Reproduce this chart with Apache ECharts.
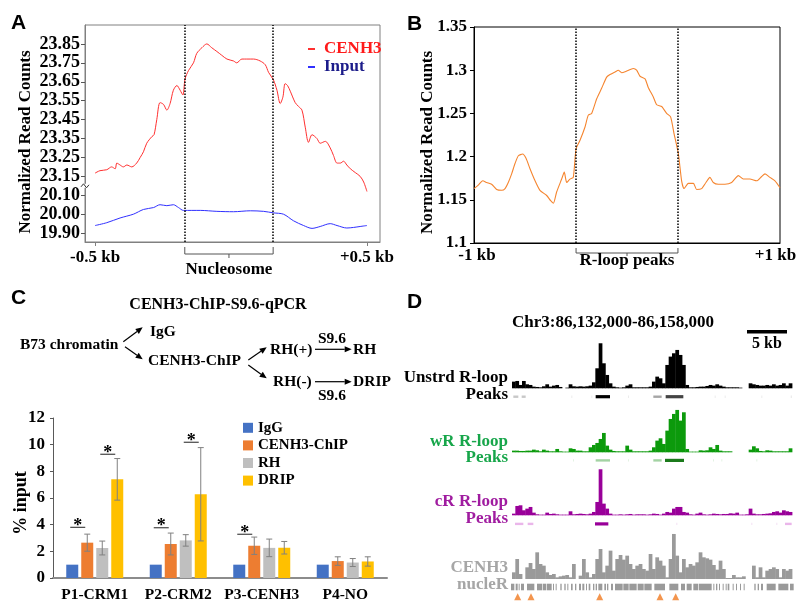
<!DOCTYPE html>
<html>
<head>
<meta charset="utf-8">
<script src="https://cdn.jsdelivr.net/npm/echarts@6/dist/echarts.min.js"></script>
</head>
<body style="margin:0">
<div id="container" style="width:798px;height:603px"></div>
<script>
var SERIF = '"Liberation Serif", "Times New Roman", serif';
var SANS = '"Liberation Sans", Arial, sans-serif';

// ---------- panel A: CENH3 / Input profile around nucleosomes (bp from centre)
var posA = [-500,-482,-457,-439,-426,-420,-408,-396,-383,-365,-347,-334,-322,-310,-291,-283,-273,-261,-248,-236,
  -224,-212,-199,-187,-177,-169,-156,-138,-126,-107,-89,-71,-52,-34,-15,9,21,40,58,83,
  107,126,138,156,169,181,191,199,208,218,236,248,261,273,285,298,316,328,347,365,
  377,390,402,414,426,439,457,475,488,500];
var cenh3A = [23.167,23.18,23.185,23.20,23.19,23.22,23.21,23.20,23.21,23.20,23.22,23.25,23.28,23.325,23.36,23.37,23.45,23.54,23.53,23.50,
  23.535,23.605,23.63,23.605,23.58,23.665,23.71,23.75,23.80,23.83,23.85,23.83,23.81,23.79,23.77,23.76,23.75,23.77,23.77,23.77,
  23.76,23.74,23.70,23.66,23.605,23.535,23.57,23.64,23.63,23.60,23.54,23.52,23.50,23.41,23.33,23.37,23.35,23.325,23.335,23.30,
  23.26,23.22,23.22,23.23,23.21,23.19,23.17,23.15,23.12,23.07];
var posInputA = [-500,-457,-408,-359,-322,-285,-261,-236,-212,-193,-175,-113,-52,9,71,120,156,193,230,267,298,328,365,390,426,451,475,500];
var inputA = [19.94,19.955,19.98,20.00,20.025,20.035,20.05,20.045,20.05,20.035,20.02,20.02,20.015,20.013,20.018,20.015,20.007,20.00,
  19.965,19.94,19.925,19.935,19.95,19.94,19.927,19.93,19.935,19.94];
var yTicksA = [19.90, 20.00, 20.10, 23.15, 23.25, 23.35, 23.45, 23.55, 23.65, 23.75, 23.85];
var xTicksA = [-500, 500];
var xTickLabelsA = ['-0.5 kb', '+0.5 kb'];
var nucleosomeA = [-170, 155];

// broken y axis: the upper part (23.15 and up) sits straight above 20.10
var BREAK_SHIFT = 2.95;
function toAxisA(v) { return v > 21 ? v - BREAK_SHIFT : v; }
function fromAxisA(v) { return v > 20.15 ? v + BREAK_SHIFT : v; }

// ---------- panel B: R-loop profile
var posB = [-1000,-972,-943,-917,-885,-852,-819,-797,-776,-754,-732,-710,-682,-660,-634,-601,-569,-525,-499,-481,
  -460,-427,-410,-394,-373,-351,-333,-307,-275,-253,-231,-198,-166,-133,-111,-78,-57,-35,-2,41,
  63,85,118,139,172,194,227,259,285,307,336,357,373,401,434,455,488,516,542,564,
  597,640,684,728,760,803,847,880,902,934,967,1000];
var rloopB = [1.163,1.167,1.172,1.170,1.168,1.162,1.161,1.163,1.170,1.180,1.192,1.201,1.203,1.198,1.186,1.172,1.161,1.155,1.149,1.146,
  1.159,1.174,1.182,1.170,1.174,1.176,1.209,1.219,1.234,1.248,1.250,1.267,1.279,1.292,1.295,1.298,1.300,1.297,1.299,1.302,
  1.300,1.293,1.290,1.280,1.269,1.260,1.258,1.250,1.246,1.227,1.203,1.172,1.163,1.169,1.169,1.162,1.163,1.170,1.176,1.170,
  1.168,1.168,1.170,1.178,1.174,1.174,1.172,1.177,1.180,1.176,1.172,1.164];
var xTicksB = [-1000, 1000];
var xTickLabelsB = ['{l|-1 kb}', '{r|+1 kb}'];
var peaksB = [-333, 333];

// ---------- panel C: qPCR
var groupsC = ['P1-CRM1', 'P2-CRM2', 'P3-CENH3', 'P4-NO'];
var namesC = ['IgG', 'CENH3-ChIP', 'RH', 'DRIP'];
var colorsC = ['#4472c4', '#ed7d31', '#bfbfbf', '#ffc000'];
var iggC = [1, 1, 1, 1];
var chipC = [2.65, 2.55, 2.42, 1.27];
var rhC = [2.25, 2.82, 2.26, 1.16];
var dripC = [7.4, 6.28, 2.27, 1.24];
var iggErrC = [0, 0, 0, 0];
var chipErrC = [0.64, 0.82, 0.65, 0.32];
var rhErrC = [0.52, 0.43, 0.66, 0.30];
var dripErrC = [1.56, 3.5, 0.47, 0.35];
// [group, bar a, bar b, height of the bar line]
var sigC = [[0, 0, 1, 3.80], [0, 2, 3, 9.28], [1, 0, 1, 3.77], [1, 2, 3, 10.18], [2, 0, 1, 3.28]];

// ---------- panel D: browser tracks, 84 bins over Chr3:86,132,000-86,158,000
var unstrdD = [20,22,10,22,12,10,5,4,3,6, 12,5,8,10,4,0,2,12,6,5, 6,5,6,8,18,60,135,75,40,15, 5,3,2,3,8,12,3,3,3,3,
  3,5,20,35,30,15,70,95,105,115, 100,70,10,3,3,4,5,5,7,10, 8,12,8,5,3,3,3,3,2,0, 0,15,12,10,8,8,10,8,12,8, 10,15,8,15];
var wrD = [5,5,4,4,5,5,8,6,3,8, 5,3,3,10,3,2,2,12,10,5, 5,3,3,15,22,28,40,58,20,8, 4,3,3,3,20,8,3,3,3,3,
  3,5,15,35,42,25,65,100,115,127, 95,120,10,2,2,2,6,5,6,15, 10,22,5,3,3,3,0,0,0,0, 0,8,18,12,4,3,6,5,3,3, 3,3,3,12];
var crD = [5,28,30,15,20,25,8,3,2,2, 8,4,5,3,2,2,2,12,3,4, 5,4,3,5,10,40,138,35,20,5, 2,2,3,2,3,4,2,3,3,3,
  2,3,5,4,2,5,10,8,20,25, 25,10,8,3,2,5,8,3,2,3, 5,4,3,4,4,6,5,8,2,2, 3,20,5,3,3,4,5,6,10,12, 8,15,12,10];
var cenh3D = [20,60,15,0,35,48,30,80,45,40, 20,12,15,5,8,10,12,5,45,0, 10,60,20,5,15,60,90,20,40,85, 25,60,72,58,70,45,30,40,45,30,
  25,75,30,65,55,40,5,60,135,70, 20,60,35,45,40,50,80,65,62,58, 42,28,55,30,3,3,12,5,5,8, 0,0,40,5,35,5,25,30,35,30, 5,30,25,30];
// peak calls: [start bin, end bin, level 0 faint .. 4 strong]
var unstrdPeaks = [[0.4,1.9,1],[2.9,4.1,1],[17.8,18.1,0],[23.8,24.1,0],[25.1,29.4,4],[34.8,35.1,0],[42.4,44.9,2],[46.1,51.4,3],
  [60.8,61.1,0],[63.8,64.1,0],[74.8,75.1,0],[83.6,84,0]];
var wrPeaks = [[18.3,18.6,0],[25.1,29.4,1],[34.8,35.1,0],[42.4,44.9,1],[45.9,51.6,4],[60.3,60.6,0],[62.8,63.1,0],[73.3,73.6,0]];
var crPeaks = [[0.9,3.4,1],[4.7,6.4,1],[24.9,28.9,4],[49.3,49.6,0],[71.8,72.1,0],[79.3,79.6,0],[81.9,83.9,1]];
var nucleR = [[-0.3,0.7],[1.1,1.7],[2.0,2.3],[2.7,3.6],[4.5,6.7],[7.5,9.0],[9.2,10.3],[10.5,11.9],[12.3,12.6],[13.1,13.4],
  [14.5,14.9],[15.7,16.1],[16.6,16.9],[17.7,18.2],[18.9,19.3],[20.1,20.7],[21.1,21.7],[22.2,22.5],[23.0,23.5],[24.3,24.7],
  [25.1,25.5],[25.9,27.1],[27.7,28.2],[28.5,28.9],[29.7,30.3],[30.9,33.2],[33.4,35.0],[35.2,37.4],[37.7,39.5],[39.7,41.9],
  [42.7,45.9],[47.2,49.9],[50.7,51.9],[52.4,53.9],[54.4,55.9],[56.1,59.9],[60.4,60.7],[61.2,61.6],[62.1,62.4],[63.2,63.5],
  [64.1,64.4],[64.7,65.2],[66.2,66.5],[67.2,67.5],[68.4,68.7],[69.5,69.8],[72.7,73.1],[73.7,74.1],[74.7,75.3],[76.4,79.1],
  [79.9,82.9],[83.4,84.5]];
var trianglesD = [1.7, 5.7, 26.3, 44.4, 49.1];

// ---------- helpers
function zip(xs, ys, f) {
  return xs.map(function (x, i) { return [x, f ? f(ys[i]) : ys[i]]; });
}
function txt(text, x, y, size, opt) {
  opt = opt || {};
  return {
    type: 'text', x: x, y: y, rotation: opt.rotation || 0, silent: true,
    style: {
      text: text, fill: opt.color || '#000',
      font: 'bold ' + size + 'px ' + (opt.family || SERIF),
      align: opt.align || 'left', textAlign: opt.align || 'left',
      verticalAlign: 'middle', textVerticalAlign: 'middle'
    }
  };
}
function arrow(x1, y1, x2, y2) {
  var a = Math.atan2(y2 - y1, x2 - x1), L = 7, W = 3;
  var bx = x2 - L * Math.cos(a), by = y2 - L * Math.sin(a);
  return [
    { type: 'line', silent: true, shape: { x1: x1, y1: y1, x2: bx, y2: by }, style: { stroke: '#000', lineWidth: 1.2 } },
    { type: 'polygon', silent: true, shape: { points: [[x2, y2], [bx - W * Math.sin(a), by + W * Math.cos(a)], [bx + W * Math.sin(a), by - W * Math.cos(a)]] }, style: { fill: '#000' } }
  ];
}
function seg(x1, y1, x2, y2, color, w) {
  return { type: 'line', shape: { x1: x1, y1: y1, x2: x2, y2: y2 }, style: { stroke: color, lineWidth: w || 1 } };
}

// bracket under a profile plot
function bracketSeries(grid, range, label, g) {
  return {
    type: 'custom', xAxisIndex: grid, yAxisIndex: grid, silent: true, clip: false, z: 5,
    data: [range],
    renderItem: function (params, api) {
      var cs = params.coordSys, base = cs.y + cs.height;
      var x1 = api.coord([api.value(0), 0])[0], x2 = api.coord([api.value(1), 0])[0], xm = (x1 + x2) / 2;
      return {
        type: 'group', children: [
          { type: 'polyline', shape: { points: [[x1, base + g[0]], [x1, base + g[1]], [x2, base + g[1]], [x2, base + g[0]]] },
            style: { stroke: '#555', fill: null, lineWidth: 1 } },
          seg(xm, base + g[1], xm, base + g[2], '#555', 1),
          { type: 'text', style: { text: label, x: xm, y: base + g[3], fill: '#000', font: 'bold 17px ' + SERIF,
            align: 'center', textAlign: 'center', verticalAlign: 'middle', textVerticalAlign: 'middle' } }
        ]
      };
    }
  };
}

var BAR_W = 12, BAR_GAP = 3;
var barOffsets = namesC.map(function (n, i) { return (i - (namesC.length - 1) / 2) * (BAR_W + BAR_GAP); });
var valsC = [iggC, chipC, rhC, dripC];
var errsC = [iggErrC, chipErrC, rhErrC, dripErrC];
var errData = [];
valsC.forEach(function (vals, s) {
  vals.forEach(function (v, g) { errData.push([g, s, v, errsC[s][g]]); });
});

function trackSeries(grid, vals, color) {
  return {
    type: 'custom', xAxisIndex: grid, yAxisIndex: grid, silent: true, clip: false,
    data: vals.map(function (v, i) { return [i, v]; }), encode: { x: 0, y: 1 },
    renderItem: function (params, api) {
      var i = api.value(0), v = api.value(1);
      var p0 = api.coord([i, 0]), p1 = api.coord([i + 1, v]);
      return { type: 'rect', shape: { x: p0[0], y: p1[1], width: p1[0] - p0[0] + 0.4, height: p0[1] - p1[1] }, style: { fill: color } };
    }
  };
}
function peakSeries(grid, peaks, colors, offset) {
  return {
    type: 'custom', xAxisIndex: grid, yAxisIndex: grid, silent: true, clip: false,
    data: peaks, encode: { x: [0, 1] },
    renderItem: function (params, api) {
      var lvl = api.value(2);
      var a = api.coord([api.value(0), 0]), b = api.coord([api.value(1), 0]);
      var h = lvl >= 3 ? 3.2 : 2.4;
      return { type: 'rect', shape: { x: a[0], y: a[1] + offset + (3.2 - h) / 2, width: Math.max(b[0] - a[0], 1), height: h },
        style: { fill: colors[lvl] } };
    }
  };
}

var dom = document.getElementById('container');
var myChart = echarts.init(dom, null, { renderer: 'canvas' });

var axisFontA = { fontFamily: SERIF, fontWeight: 'bold', fontSize: 18, color: '#000' };
var axisFont17 = { fontFamily: SERIF, fontWeight: 'bold', fontSize: 17, color: '#000' };
var hiddenAxis = function (grid, max) {
  return { type: 'value', gridIndex: grid, min: 0, max: max, show: false };
};

var graphics = [
  txt('A', 11, 23, 21, { family: SANS }),
  txt('B', 407, 24, 21, { family: SANS }),
  txt('C', 11, 298, 21, { family: SANS }),
  txt('D', 407, 302, 21, { family: SANS }),
  txt('Normalized Read Counts', 26, 142, 17, { align: 'center', rotation: Math.PI / 2 }),
  txt('Normalized Read Counts', 427.5, 142.5, 17, { align: 'center', rotation: Math.PI / 2 }),
  txt('% input', 21.5, 503, 18, { align: 'center', rotation: Math.PI / 2 }),
  // C flow diagram
  txt('CENH3-ChIP-S9.6-qPCR', 218, 305, 16, { align: 'center' }),
  txt('B73 chromatin', 20, 345, 15.5),
  txt('IgG', 150, 332, 15.5),
  txt('CENH3-ChIP', 148, 361, 15.5),
  txt('RH(+)', 270, 350, 15.5),
  txt('RH', 353, 350, 15.5),
  txt('RH(-)', 273, 382, 15.5),
  txt('DRIP', 353, 382, 15.5),
  txt('S9.6', 318, 339, 15.5),
  txt('S9.6', 318, 396, 15.5),
  // D labels
  txt('Chr3:86,132,000-86,158,000', 613, 323, 17, { align: 'center' }),
  { type: 'rect', silent: true, shape: { x: 747, y: 330, width: 40, height: 3.5 }, style: { fill: '#000' } },
  txt('5 kb', 767, 344, 16, { align: 'center' }),
  txt('Unstrd R-loop', 508, 378, 17, { align: 'right' }),
  txt('Peaks', 508, 395, 17, { align: 'right' }),
  txt('wR R-loop', 508, 442, 17, { align: 'right', color: '#17a64a' }),
  txt('Peaks', 508, 458, 17, { align: 'right', color: '#17a64a' }),
  txt('cR R-loop', 508, 502, 17, { align: 'right', color: '#a01ca0' }),
  txt('Peaks', 508, 519, 17, { align: 'right', color: '#a01ca0' }),
  txt('CENH3', 508, 568, 17, { align: 'right', color: '#a6a6a6' }),
  txt('nucleR', 508, 585, 17, { align: 'right', color: '#a6a6a6' })
];
graphics = graphics
  .concat(arrow(123.3, 341.7, 142.7, 327.3))
  .concat(arrow(125, 346.7, 142.7, 359.3))
  .concat(arrow(248.3, 360, 266.7, 347.3))
  .concat(arrow(248.3, 365, 266.7, 378.3))
  .concat(arrow(315, 349.3, 351.7, 349.3))
  .concat(arrow(315, 381.7, 351.7, 381.7));

var option = {
  backgroundColor: '#fff',
  animation: false,
  grid: [
    { left: 85, top: 25, width: 295, height: 217, show: true, borderColor: '#808080', borderWidth: 1, outerBoundsMode: 'none' },
    { left: 474, top: 27, width: 306, height: 216, show: true, borderColor: '#000', borderWidth: 1, outerBoundsMode: 'none' },
    { left: 53, top: 418, width: 334, height: 160, outerBoundsMode: 'none' },
    { left: 512, top: 341.6, width: 280, height: 46.7, outerBoundsMode: 'none' },
    { left: 512, top: 405.6, width: 280, height: 46.7, outerBoundsMode: 'none' },
    { left: 512, top: 468.6, width: 280, height: 46.7, outerBoundsMode: 'none' },
    { left: 512, top: 532.3, width: 280, height: 46.7, outerBoundsMode: 'none' }
  ],
  legend: [
    {
      data: [{ name: 'CENH3', textStyle: { color: '#ff1a1a' } }, { name: 'Input', textStyle: { color: '#1c1c8a' } }],
      orient: 'vertical', left: 303, top: 35, icon: 'rect', itemWidth: 7, itemHeight: 2, itemGap: 0,
      selectedMode: false,
      textStyle: { fontFamily: SERIF, fontWeight: 'bold', fontSize: 17, lineHeight: 18, padding: [0, 0, 0, 4] }
    },
    {
      data: namesC, orient: 'vertical', left: 238, top: 414, icon: 'rect', itemWidth: 10, itemHeight: 10, itemGap: 0,
      selectedMode: false,
      textStyle: { fontFamily: SERIF, fontWeight: 'bold', fontSize: 15, lineHeight: 17.6, color: '#000' }
    }
  ],
  xAxis: [
    {
      type: 'value', gridIndex: 0, min: -537, max: 548, splitLine: { show: false },
      axisLine: { onZero: false, lineStyle: { color: '#808080' } },
      axisTick: { customValues: xTicksA, length: 4, lineStyle: { color: '#808080' } },
      axisLabel: Object.assign({ customValues: xTicksA, margin: 7, formatter: function (v) { return xTickLabelsA[xTicksA.indexOf(v)]; } }, axisFont17)
    },
    {
      type: 'value', gridIndex: 1, min: -1000, max: 1000, splitLine: { show: false },
      axisLine: { onZero: false, lineStyle: { color: '#000' } },
      axisTick: { show: false },
      axisLabel: Object.assign({
        customValues: xTicksB, margin: 4,
        formatter: function (v) { return xTickLabelsB[xTicksB.indexOf(v)]; },
        rich: {
          l: { fontFamily: SERIF, fontWeight: 'bold', fontSize: 17, color: '#000', padding: [0, 0, 0, 6] },
          r: { fontFamily: SERIF, fontWeight: 'bold', fontSize: 17, color: '#000', padding: [0, 9, 0, 0] }
        }
      }, axisFont17)
    },
    {
      type: 'category', gridIndex: 2, data: groupsC,
      axisLine: { onZero: false, lineStyle: { color: '#8c8c8c', width: 2 } }, axisTick: { show: false },
      axisLabel: { interval: 0, margin: 9, fontFamily: SERIF, fontWeight: 'bold', fontSize: 15.5, color: '#000' }
    },
    hiddenAxis(3, 84), hiddenAxis(4, 84), hiddenAxis(5, 84), hiddenAxis(6, 84)
  ],
  yAxis: [
    {
      type: 'value', gridIndex: 0, min: 19.853, max: 21.0, splitLine: { show: false },
      axisLine: { show: true, onZero: false, lineStyle: { color: '#808080' } },
      axisTick: { show: true, customValues: yTicksA.map(toAxisA), length: 4, lineStyle: { color: '#555' } },
      axisLabel: Object.assign({ customValues: yTicksA.map(toAxisA), margin: 5, formatter: function (v) { return fromAxisA(v).toFixed(2); } }, axisFontA)
    },
    {
      type: 'value', gridIndex: 1, min: 1.1, max: 1.35, interval: 0.05, splitLine: { show: false },
      axisLine: { show: true, onZero: false, lineStyle: { color: '#000' } },
      axisTick: { show: true, length: 4, lineStyle: { color: '#000' } },
      axisLabel: Object.assign({ margin: 7 }, axisFont17)
    },
    {
      type: 'value', gridIndex: 2, min: 0, max: 12, interval: 2, splitLine: { show: false },
      axisLine: { show: true, onZero: false, lineStyle: { color: '#595959' } },
      axisTick: { show: true, length: 3, lineStyle: { color: '#595959' } },
      axisLabel: Object.assign({ margin: 8 }, axisFont17)
    },
    hiddenAxis(3, 140), hiddenAxis(4, 140), hiddenAxis(5, 140), hiddenAxis(6, 140)
  ],
  graphic: graphics,
  series: [
    {
      name: 'CENH3', type: 'line', xAxisIndex: 0, yAxisIndex: 0, data: zip(posA, cenh3A, toAxisA),
      showSymbol: false, smooth: 0.3, color: '#ff3030', lineStyle: { width: 1 },
      markLine: {
        silent: true, symbol: ['none', 'none'], label: { show: false },
        lineStyle: { type: 'dotted', color: '#000', width: 1.5 },
        data: nucleosomeA.map(function (x) { return { xAxis: x }; })
      }
    },
    {
      name: 'Input', type: 'line', xAxisIndex: 0, yAxisIndex: 0, data: zip(posInputA, inputA),
      showSymbol: false, smooth: 0.3, color: '#3030ff', lineStyle: { width: 1 }
    },
    bracketSeries(0, nucleosomeA, 'Nucleosome', [5, 12, 16, 28]),
    {
      // break mark on the y axis of panel A
      type: 'custom', xAxisIndex: 0, yAxisIndex: 0, silent: true, clip: false, z: 6,
      data: [[-537, 20.15]],
      renderItem: function (params, api) {
        var p = api.coord([api.value(0), api.value(1)]);
        return {
          type: 'group', children: [
            { type: 'rect', shape: { x: p[0] - 3, y: p[1] - 2, width: 6, height: 4 }, style: { fill: '#fff' } },
            { type: 'polyline', shape: { points: [[p[0] - 4, p[1] + 1], [p[0] - 1.5, p[1] - 2], [p[0] + 1.5, p[1] + 2], [p[0] + 4, p[1] - 1]] },
              style: { stroke: '#333', fill: null, lineWidth: 1 } }
          ]
        };
      }
    },
    {
      name: 'R-loop', type: 'line', xAxisIndex: 1, yAxisIndex: 1, data: zip(posB, rloopB),
      showSymbol: false, smooth: 0.2, color: '#f5852f', lineStyle: { width: 1.1 },
      markLine: {
        silent: true, symbol: ['none', 'none'], label: { show: false },
        lineStyle: { type: 'dotted', color: '#000', width: 1.5 },
        data: peaksB.map(function (x) { return { xAxis: x }; })
      }
    },
    bracketSeries(1, peaksB, 'R-loop peaks', [5, 10, 13, 18]),
    // panel C bars
    { name: namesC[0], type: 'bar', xAxisIndex: 2, yAxisIndex: 2, data: iggC, color: colorsC[0], barWidth: BAR_W, barGap: (BAR_GAP / BAR_W * 100) + '%' },
    { name: namesC[1], type: 'bar', xAxisIndex: 2, yAxisIndex: 2, data: chipC, color: colorsC[1], barWidth: BAR_W, barGap: (BAR_GAP / BAR_W * 100) + '%' },
    { name: namesC[2], type: 'bar', xAxisIndex: 2, yAxisIndex: 2, data: rhC, color: colorsC[2], barWidth: BAR_W, barGap: (BAR_GAP / BAR_W * 100) + '%' },
    { name: namesC[3], type: 'bar', xAxisIndex: 2, yAxisIndex: 2, data: dripC, color: colorsC[3], barWidth: BAR_W, barGap: (BAR_GAP / BAR_W * 100) + '%' },
    {
      type: 'custom', xAxisIndex: 2, yAxisIndex: 2, silent: true, z: 5,
      data: errData, encode: { x: 0, y: 2 },
      renderItem: function (params, api) {
        var g = api.value(0), s = api.value(1), v = api.value(2), e = api.value(3);
        if (!e) return;
        var x = api.coord([g, v])[0] + barOffsets[s];
        var yt = api.coord([g, v + e])[1], yb = api.coord([g, v - e])[1];
        return {
          type: 'group', children: [
            seg(x, yt, x, yb, '#808080', 1), seg(x - 3, yt, x + 3, yt, '#808080', 1), seg(x - 3, yb, x + 3, yb, '#808080', 1)
          ]
        };
      }
    },
    {
      type: 'custom', xAxisIndex: 2, yAxisIndex: 2, silent: true, z: 5,
      data: sigC, encode: { x: 0, y: 3 },
      renderItem: function (params, api) {
        var g = api.value(0), a = api.value(1), b = api.value(2), y = api.value(3);
        var c = api.coord([g, y]);
        var xa = c[0] + barOffsets[a] - 2, xb = c[0] + barOffsets[b] - 2;
        return {
          type: 'group', children: [
            seg(xa, c[1], xb, c[1], '#444', 1.2),
            { type: 'text', style: { text: '*', x: (xa + xb) / 2, y: c[1] - 1, fill: '#000', font: 'bold 18px ' + SERIF,
              align: 'center', textAlign: 'center', verticalAlign: 'middle', textVerticalAlign: 'middle' } }
          ]
        };
      }
    },
    // panel D tracks
    trackSeries(3, unstrdD, '#000000'),
    peakSeries(3, unstrdPeaks, ['#ececec', '#c8c8c8', '#a6a6a6', '#444444', '#000000'], 6.8),
    trackSeries(4, wrD, '#0c9a0c'),
    peakSeries(4, wrPeaks, ['#e3f2e3', '#a3d3a3', '#a3d3a3', '#1b7a1b', '#1b7a1b'], 6.5),
    trackSeries(5, crD, '#990099'),
    peakSeries(5, crPeaks, ['#f3e0f3', '#eab6ea', '#eab6ea', '#990099', '#990099'], 7),
    trackSeries(6, cenh3D, '#9a9a9a'),
    {
      type: 'custom', xAxisIndex: 6, yAxisIndex: 6, silent: true, clip: false,
      data: nucleR, encode: { x: [0, 1] },
      renderItem: function (params, api) {
        var a = api.coord([api.value(0), 0]), b = api.coord([api.value(1), 0]);
        return { type: 'rect', shape: { x: a[0], y: a[1] + 4.7, width: b[0] - a[0], height: 6.6 }, style: { fill: '#9a9a9a' } };
      }
    },
    {
      type: 'scatter', xAxisIndex: 6, yAxisIndex: 6, silent: true, clip: false,
      data: trianglesD.map(function (b) { return [b, 0]; }),
      symbol: 'triangle', symbolSize: [7, 7], symbolOffset: [0, 17.7], itemStyle: { color: '#f07b22' }
    }
  ]
};

if (option && typeof option === 'object') {
  myChart.setOption(option, true);
}
</script>
</body>
</html>
